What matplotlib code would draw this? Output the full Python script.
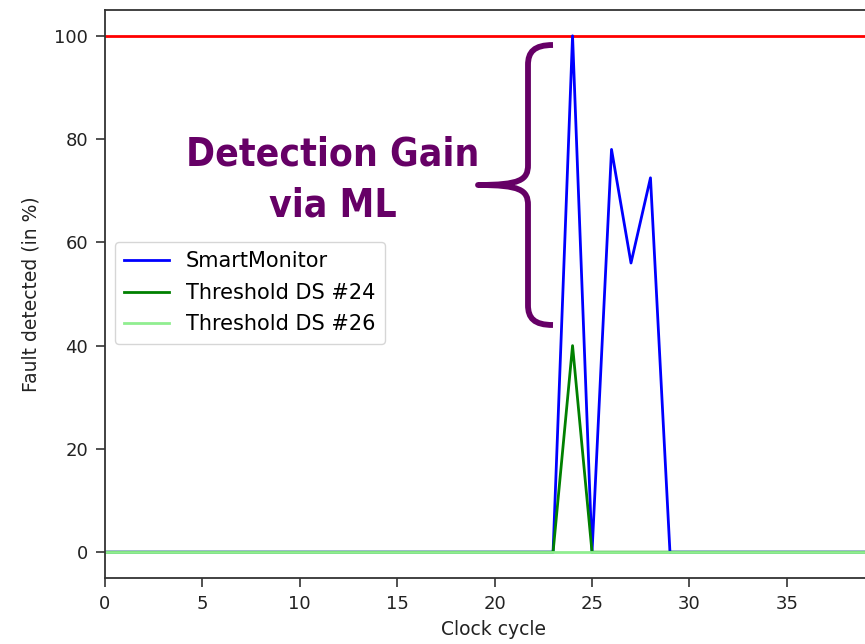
import matplotlib
matplotlib.use("Agg")
import matplotlib.pyplot as plt
from matplotlib.path import Path
from matplotlib.patches import PathPatch
from matplotlib.transforms import Affine2D
from matplotlib import font_manager
from matplotlib.font_manager import FontProperties

# Data
cycles = list(range(0, 41))
smart_monitor = [0]*24 + [100, 0, 78, 56, 72.5] + [0]*(len(cycles) - 29)
threshold_24 = [0]*24 + [40] + [0]*(len(cycles) - 25)
threshold_26 = [0]*len(cycles)
reference_level = 100
x_ticks = [0, 5, 10, 15, 20, 25, 30, 35]
y_ticks = [0, 20, 40, 60, 80, 100]

W, H = 865, 644
fig = plt.figure(figsize=(W/100, H/100), dpi=100)
ax_w = 1.0 - 105/W + 0.02
ax = fig.add_axes([105/W, 66/H, ax_w, (578-10)/H])

lw = 2.0
ax.axhline(reference_level, color="red", lw=lw)
ax.plot(cycles, smart_monitor, color="blue", lw=lw, label="SmartMonitor")
ax.plot(cycles, threshold_24, color="green", lw=lw, label="Threshold DS #24")
ax.plot(cycles, threshold_26, color="lightgreen", lw=lw, label="Threshold DS #26")

ax.set_xlim(0, 39.9)
ax.set_ylim(-5, 105)
ax.set_xticks(x_ticks)
ax.set_yticks(y_ticks)
ax.tick_params(labelsize=13, length=6.3, width=1.2, pad=6, colors="#333333", labelcolor="#222222")
ax.set_xlabel("Clock cycle", fontsize=13.5, color="#222222", labelpad=5)
ax.set_ylabel("Fault detected (in %)", fontsize=13.5, color="#222222", labelpad=10)
ax.spines["right"].set_visible(False)
for s in ("left", "bottom", "top"):
    ax.spines[s].set_color("#333333")
    ax.spines[s].set_linewidth(1.3)

ax_px = ax_w * W
leg = ax.legend(loc="upper left", bbox_to_anchor=(10/ax_px, (578-242)/568), fontsize=15,
                handlelength=2.15, borderpad=0.45, labelspacing=0.55, handletextpad=0.8,
                borderaxespad=0)

# find a condensed/narrow bold font if available
font = None
for f in font_manager.fontManager.ttflist:
    fn = f.fname.lower()
    if ("condensed" in fn or "narrow" in fn) and "bold" in fn and "oblique" not in fn and "italic" not in fn:
        font = FontProperties(fname=f.fname, size=28)
        break
if font is None:
    font = FontProperties(family="Roboto", weight="bold", size=27)

purple = "#660066"
pix = Affine2D().scale(1/W, -1/H).translate(0, 1) + fig.transFigure
fig.text(333, 180, "Detection Gain\nvia ML", transform=pix, ha="center", va="center",
         fontproperties=font, color=purple, linespacing=1.45)

verts = [(553, 45), (534, 45), (528, 52), (528, 65),
         (528, 165),
         (528, 180), (520, 185), (478, 185),
         (520, 185), (528, 190), (528, 205),
         (528, 305),
         (528, 318), (534, 325), (553, 325)]
codes = [Path.MOVETO, Path.CURVE4, Path.CURVE4, Path.CURVE4,
         Path.LINETO,
         Path.CURVE4, Path.CURVE4, Path.CURVE4,
         Path.CURVE4, Path.CURVE4, Path.CURVE4,
         Path.LINETO,
         Path.CURVE4, Path.CURVE4, Path.CURVE4]
brace = PathPatch(Path(verts, codes), transform=pix, fill=False, edgecolor=purple,
                  lw=4.2, capstyle="butt", joinstyle="round")
fig.patches.append(brace)

fig.savefig("out.png", dpi=100)
